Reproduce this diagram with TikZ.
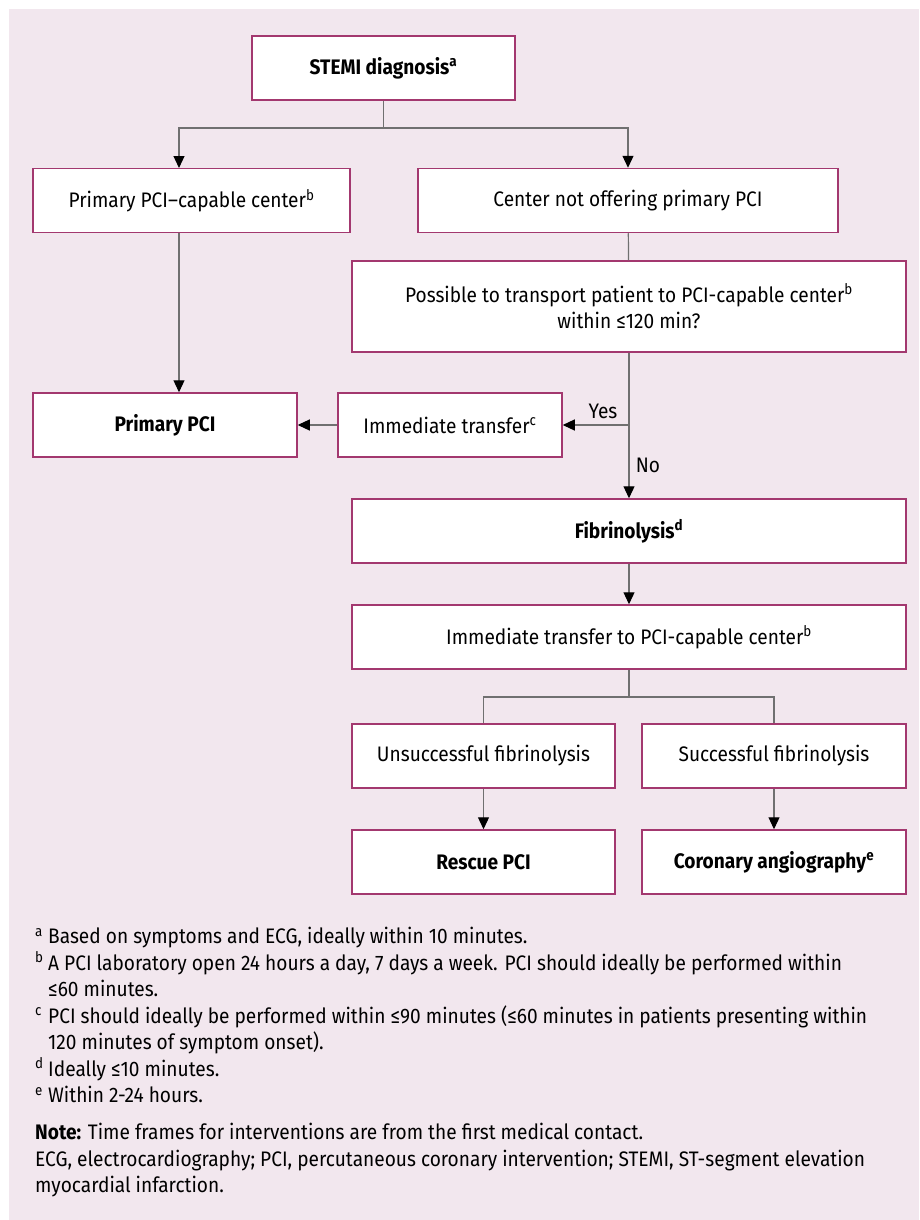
\documentclass[tikz,border=0pt]{standalone}
\usepackage{fontspec}
\setmainfont{Fira Sans}[FakeStretch=0.91]
\usetikzlibrary{arrows.meta}
\definecolor{bgpink}{HTML}{F2E7EE}
\definecolor{boxline}{HTML}{A3386F}
\definecolor{linkgray}{HTML}{707070}
\newcommand{\fnmark}[1]{\makebox[13pt][l]{\textsuperscript{#1}}}
\tikzset{
  box/.style={draw=boxline, line width=1.5pt, fill=white, minimum height=64pt, align=center, inner sep=0pt},
  link/.style={draw=linkgray, line width=1.2pt},
  arr/.style={link, -{Triangle[width=11pt,length=12pt,color=black]}}
}
\begin{document}
\begin{tikzpicture}[x=1pt,y=-1pt,font=\fontsize{21}{26.5}\selectfont]
\useasboundingbox (0,0) rectangle (919,1220);
\fill[bgpink] (9,9) rectangle (919,1220);
% boxes
\node[box, minimum width=263pt] (stemi) at (383.5,68) {\textbf{STEMI diagnosis\textsuperscript{a}}};
\node[box, minimum width=317pt] (pcicap) at (191.5,200.5) {Primary PCI–capable center\textsuperscript{b}};
\node[box, minimum width=420pt] (notpci) at (628,200.5) {Center not offering primary PCI};
\node[box, minimum width=554pt, minimum height=91pt] (possible) at (629,306.5) {Possible to transport patient to PCI-capable center\textsuperscript{b}\\ within ≤120 min?};
\node[box, minimum width=264pt] (primary) at (165,425) {\textbf{Primary PCI}};
\node[box, minimum width=224pt] (transfer) at (450,425) {Immediate transfer\textsuperscript{c}};
\node[box, minimum width=554pt] (fibrin) at (629,531) {\textbf{Fibrinolysis\textsuperscript{d}}};
\node[box, minimum width=554pt] (tocenter) at (629,637) {Immediate transfer to PCI-capable center\textsuperscript{b}};
\node[box, minimum width=263pt] (fail) at (483.5,756) {Unsuccessful fibrinolysis};
\node[box, minimum width=264pt] (success) at (774,756) {Successful fibrinolysis};
\node[box, minimum width=263pt] (rescue) at (483.5,862) {\textbf{Rescue PCI}};
\node[box, minimum width=264pt] (angio) at (774,862) {\textbf{Coronary angiography\textsuperscript{e}}};
% junctions
\coordinate (split1) at (383.5,128);
\coordinate (capin) at (179,168);
\coordinate (capout) at (179,233);
\coordinate (yesno) at (628,425);
\coordinate (split2) at (629,697);
% connectors
\draw[link] (stemi) -- (split1);
\draw[arr] (split1) -| (capin);
\draw[arr] (split1) -| (notpci.north);
\draw[arr] (capout) -- (capin |- primary.north);
\draw[link] (notpci) -- (possible);
\draw[arr] (possible.south) -- (fibrin.north);
\draw[arr] (yesno) -- (transfer.east);
\draw[arr] (transfer) -- (primary);
\draw[arr] (fibrin) -- (tocenter);
\draw[link] (tocenter) -- (split2);
\draw[link] (split2) -| (fail.north);
\draw[link] (split2) -| (success.north);
\draw[arr] (fail) -- (rescue);
\draw[arr] (success) -- (angio);
\node (yes) at (603,411) {Yes};
\node (no) at (648,465) {No};
% notes
\node[anchor=north west, align=left, inner sep=0pt] (notes) at (35,927) {%
\fnmark{a}Based on symptoms and ECG, ideally within 10 minutes.\\
\fnmark{b}A PCI laboratory open 24 hours a day, 7 days a week. PCI should ideally be performed within\\
\hspace*{13pt}≤60 minutes.\\
\fnmark{c}PCI should ideally be performed within ≤90 minutes (≤60 minutes in patients presenting within\\
\hspace*{13pt}120 minutes of symptom onset).\\
\fnmark{d}Ideally ≤10 minutes.\\
\fnmark{e}Within 2-24 hours.\\[10.5pt]
\textbf{Note:} Time frames for interventions are from the first medical contact.\\
ECG, electrocardiography; PCI, percutaneous coronary intervention; STEMI, ST-segment elevation\\
myocardial infarction.};
\end{tikzpicture}
\end{document}
